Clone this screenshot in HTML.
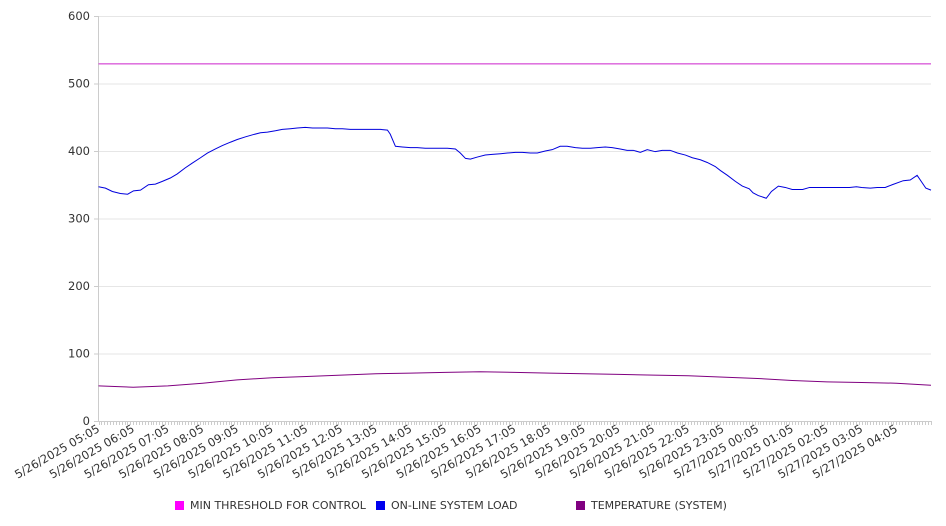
<!DOCTYPE html>
<html><head><meta charset="utf-8">
<style>
html,body{margin:0;padding:0;background:#fff;}
svg{display:block;font-family:"DejaVu Sans","Liberation Sans",sans-serif;}
</style></head>
<body>
<svg id="chart" width="946" height="526" viewBox="0 0 946 526" xmlns="http://www.w3.org/2000/svg"></svg>
<script>
const yTicks = [0,100,200,300,400,500,600];
const xTickLabels = ["5/26/2025 05:05","5/26/2025 06:05","5/26/2025 07:05","5/26/2025 08:05","5/26/2025 09:05","5/26/2025 10:05","5/26/2025 11:05","5/26/2025 12:05","5/26/2025 13:05","5/26/2025 14:05","5/26/2025 15:05","5/26/2025 16:05","5/26/2025 17:05","5/26/2025 18:05","5/26/2025 19:05","5/26/2025 20:05","5/26/2025 21:05","5/26/2025 22:05","5/26/2025 23:05","5/27/2025 00:05","5/27/2025 01:05","5/27/2025 02:05","5/27/2025 03:05","5/27/2025 04:05"];
const thresholdValue = 529;
// hours since 5/26 05:05
const loadHours = [0,0.2,0.4,0.63,0.84,1.01,1.21,1.44,1.64,1.84,2.07,2.27,2.5,2.7,2.94,3.14,3.37,3.57,3.8,4.0,4.24,4.44,4.67,4.87,5.1,5.3,5.53,5.73,5.96,6.17,6.4,6.6,6.83,7.03,7.26,7.46,7.69,7.9,8.13,8.33,8.41,8.56,8.76,8.99,9.19,9.42,9.63,9.86,10.06,10.29,10.43,10.58,10.72,10.92,11.15,11.35,11.59,11.79,12.02,12.22,12.45,12.65,12.88,13.08,13.31,13.51,13.75,13.95,14.18,14.38,14.61,14.81,15.04,15.24,15.42,15.62,15.82,16.05,16.25,16.48,16.69,16.92,17.12,17.35,17.55,17.78,17.93,18.13,18.36,18.56,18.76,18.87,19.02,19.25,19.4,19.6,19.8,20.0,20.3,20.5,20.75,20.95,21.2,21.45,21.65,21.85,22.0,22.25,22.45,22.68,22.88,23.2,23.4,23.6,23.85,24];
const loadValues = [347,345,340,337,336,341,342,350,351,355,360,366,375,382,390,397,403,408,413,417,421,424,427,428,430,432,433,434,435,434,434,434,433,433,432,432,432,432,432,431,425,407,406,405,405,404,404,404,404,403,397,389,388,391,394,395,396,397,398,398,397,397,400,402,407,407,405,404,404,405,406,405,403,401,401,398,402,399,401,401,397,394,390,387,383,377,371,364,355,348,344,338,334,330,340,348,346,343,343,346,346,346,346,346,346,347,346,345,346,346,350,356,357,364,345,342,346,352];
const tempHours = [0,1,2,3,4,5,6,7,8,9,10,11,12,13,14,15,16,17,18,19,20,21,22,23,24];
const tempValues = [52,50,52,56,61,64,66,68,70,71,72,73,72,71,70,69,68,67,65,63,60,58,57,56,53];

const svg = document.getElementById('chart');
const NS = 'http://www.w3.org/2000/svg';
const X0 = 98.5, X1 = 931, Y0 = 421, Y1 = 16;
const xs = h => X0 + (h/24)*(X1-X0);
const ys = v => Y0 - (v/600)*(Y0-Y1);
function mk(tag, attrs){const e=document.createElementNS(NS,tag);for(const k in attrs)e.setAttribute(k,attrs[k]);svg.appendChild(e);return e;}

yTicks.forEach(t=>{
  const g = mk('line',{x1:X0,x2:X1,y1:ys(t)+0.5,y2:ys(t)+0.5,stroke:t===0?'#ccc':'#e6e6e6','stroke-width':1});
  
  
  const tk = mk('line',{x1:94,x2:X0,y1:ys(t)+0.5,y2:ys(t)+0.5,stroke:'#ccc'});
  
  
  const l = mk('text',{x:90,y:ys(t)+4,'text-anchor':'end','font-size':11.5,fill:'#333'});
  l.textContent = t;
  
  
});
const ya = mk('line',{x1:X0,x2:X0,y1:Y1,y2:Y0,stroke:'#ccc'});


for(let i=0;i<=288;i++){
  const x = Math.round(xs(i/12))+0.5;
  const m = mk('line',{x1:x,x2:x,y1:Y0,y2:Y0+4,stroke:'#ccc'});
  
  
}
xTickLabels.forEach((lab,i)=>{
  const x = xs(i)+2, y = Y0+10;
  const t = mk('text',{x:x,y:y,'text-anchor':'end','font-size':11.5,fill:'#333',transform:`rotate(-30 ${x} ${y})`});
  t.textContent = lab;
  
  
});
const th = mk('line',{x1:X0,x2:X1,y1:ys(thresholdValue),y2:ys(thresholdValue),stroke:'#cc22cc','stroke-width':1});


const lp = mk('polyline',{points:loadHours.map((h,i)=>xs(h)+','+ys(loadValues[i])).join(' '),fill:'none',stroke:'#0000dd','stroke-width':1});


const tp = mk('polyline',{points:tempHours.map((h,i)=>xs(h)+','+ys(tempValues[i])).join(' '),fill:'none',stroke:'#800080','stroke-width':1});


const legend = [["MIN THRESHOLD FOR CONTROL","#ff00ff",175],["ON-LINE SYSTEM LOAD","#0000ee",376],["TEMPERATURE (SYSTEM)","#800080",576]];
legend.forEach(([name,col,x])=>{
  const r = mk('rect',{x:x,y:501,width:9,height:9,fill:col});
  
  
  const t = mk('text',{x:x+15,y:509,'font-size':11,fill:'#333'});
  t.textContent = name;
  
  
});
</script>
</body></html>
